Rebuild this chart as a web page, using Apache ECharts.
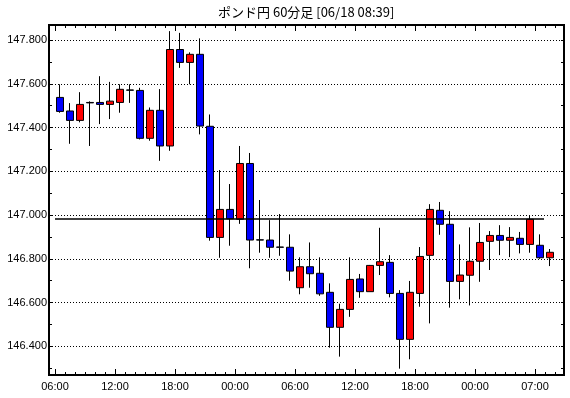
<!DOCTYPE html>
<html lang="ja">
<head>
    <meta charset="UTF-8">
    <title>ポンド円 60分足</title>
    <script src="https://cdn.jsdelivr.net/npm/echarts@6/dist/echarts.min.js"></script>
    <style>
        body, html {
            margin: 0;
            background: #fff;
        }

        #chart {
            width: 570px;
            height: 398px;
        }
    </style>
</head>
<body>
<div id="chart"></div>
<script>
    // 60分足の時刻 (06:00 の足が欠けている)
    const hours = [
        '06:00', '07:00', '08:00', '09:00', '10:00', '11:00', '12:00', '13:00', '14:00', '15:00',
        '16:00', '17:00', '18:00', '19:00', '20:00', '21:00', '22:00', '23:00', '00:00', '01:00',
        '02:00', '03:00', '04:00', '05:00', '06:00', '07:00', '08:00', '09:00', '10:00', '11:00',
        '12:00', '13:00', '14:00', '15:00', '16:00', '17:00', '18:00', '19:00', '20:00', '21:00',
        '22:00', '23:00', '00:00', '01:00', '02:00', '03:00', '04:00', '05:00', '07:00', '08:00'
    ];

    const opens = [
        147.538, 147.476, 147.433, 147.515, 147.515, 147.506, 147.515, 147.572, 147.570, 147.351,
        147.479, 147.316, 147.757, 147.698, 147.735, 147.406, 146.898, 147.026, 146.981, 147.236,
        146.887, 146.886, 146.854, 146.853, 146.668, 146.764, 146.734, 146.647, 146.487, 146.569,
        146.708, 146.650, 146.770, 146.784, 146.642, 146.432, 146.642, 146.816, 147.022, 146.958,
        146.697, 146.725, 146.789, 146.880, 146.907, 146.885, 146.894, 146.866, 146.862, 146.805
    ];
    const closes = [
        147.474, 147.433, 147.506, 147.513, 147.506, 147.521, 147.575, 147.571, 147.351, 147.479,
        147.316, 147.757, 147.698, 147.735, 147.407, 146.898, 147.026, 146.983, 147.236, 146.886,
        146.886, 146.853, 146.853, 146.744, 146.764, 146.732, 146.640, 146.487, 146.569, 146.706,
        146.650, 146.770, 146.787, 146.642, 146.432, 146.647, 146.811, 147.026, 146.958, 146.697,
        146.726, 146.789, 146.875, 146.907, 146.885, 146.898, 146.866, 146.981, 146.805, 146.830
    ];
    const lows = [
        147.468, 147.326, 147.424, 147.316, 147.416, 147.439, 147.468, 147.513, 147.346, 147.340,
        147.248, 147.294, 147.673, 147.598, 147.369, 146.883, 146.805, 146.860, 146.960, 146.757,
        146.828, 146.805, 146.814, 146.700, 146.638, 146.668, 146.631, 146.394, 146.353, 146.535,
        146.622, 146.650, 146.726, 146.624, 146.298, 146.341, 146.581, 146.505, 146.910, 146.577,
        146.615, 146.587, 146.695, 146.749, 146.817, 146.808, 146.825, 146.828, 146.800, 146.767
    ];
    const highs = [
        147.598, 147.512, 147.562, 147.520, 147.635, 147.609, 147.598, 147.598, 147.582, 147.492,
        147.576, 147.841, 147.833, 147.744, 147.808, 147.460, 147.206, 147.142, 147.316, 147.284,
        147.069, 146.977, 147.005, 146.912, 146.807, 146.875, 146.807, 146.688, 146.595, 146.807,
        146.731, 146.772, 146.942, 146.817, 146.657, 146.699, 146.854, 147.050, 147.060, 147.018,
        146.866, 146.944, 146.964, 146.927, 146.954, 146.945, 146.923, 146.999, 146.912, 146.845
    ];

    // 横の実線 (基準値)
    const refLevel = 146.984;

    // 価格軸の目盛
    const priceLabels = [146.4, 146.6, 146.8, 147.0, 147.2, 147.4, 147.6, 147.8];
    const priceTicks = [146.3, 146.4, 146.5, 146.6, 146.7, 146.8, 146.9, 147.0,
        147.1, 147.2, 147.3, 147.4, 147.5, 147.6, 147.7, 147.8];
    // 時刻ラベルを出す位置 (足の番号)
    const timeTicks = [0, 6, 12, 18, 24, 30, 36, 42, 48];

    const candles = opens.map((o, i) => [o, closes[i], lows[i], highs[i]]);

    const yMin = 146.269;
    const yMax = 147.869;
    const labelFont = {fontFamily: 'Liberation Sans', fontSize: 11, color: '#000'};

    const chart = echarts.init(document.getElementById('chart'));

    const option = {
        animation: false,
        backgroundColor: '#fff',
        title: {
            text: 'ポンド円 60分足 [06/18 08:39]',
            left: 218,
            top: 6,
            padding: 0,
            textStyle: {fontFamily: 'Noto Sans CJK JP', fontSize: 13, fontWeight: 'normal', color: '#000'}
        },
        grid: [
            // 足を描く範囲
            {left: 55, right: 15, top: 25, bottom: 23},
            // 外枠
            {left: 49, right: 6, top: 25, bottom: 23, show: true, borderColor: '#000', borderWidth: 2}
        ],
        xAxis: [
            {
                type: 'category', gridIndex: 0, data: hours, position: 'bottom', boundaryGap: true,
                axisLine: {show: false}, axisLabel: {show: false},
                axisTick: {show: true, inside: true, interval: 0, length: 3, lineStyle: {color: '#000'}}
            },
            {
                type: 'value', gridIndex: 0, min: 0, max: hours.length, position: 'bottom',
                axisLine: {show: false, onZero: false}, splitLine: {show: false},
                axisTick: {show: true, inside: true, length: 6, customValues: timeTicks, lineStyle: {color: '#000'}},
                axisLabel: Object.assign({
                    customValues: timeTicks, margin: 6,
                    formatter: v => hours[Math.round(v)]
                }, labelFont)
            },
            {
                type: 'category', gridIndex: 0, data: hours, position: 'top', boundaryGap: true,
                axisLine: {show: false}, axisLabel: {show: false},
                axisTick: {show: true, inside: true, interval: 0, length: 3, lineStyle: {color: '#000'}}
            },
            {
                type: 'value', gridIndex: 0, min: 0, max: hours.length, position: 'top',
                axisLine: {show: false, onZero: false}, splitLine: {show: false}, axisLabel: {show: false},
                axisTick: {show: true, inside: true, length: 6, customValues: timeTicks, lineStyle: {color: '#000'}}
            },
            {type: 'value', gridIndex: 1, show: false}
        ],
        yAxis: [
            {type: 'value', gridIndex: 0, min: yMin, max: yMax, show: false},
            {
                type: 'value', gridIndex: 1, min: yMin, max: yMax, position: 'left',
                axisLine: {show: false},
                axisTick: {show: false, customValues: priceLabels},
                axisLabel: Object.assign({
                    customValues: priceLabels, margin: 2,
                    formatter: v => v.toFixed(3)
                }, labelFont),
                splitLine: {show: true, lineStyle: {color: '#000', width: 1, type: [1, 2]}}
            },
            {
                type: 'value', gridIndex: 1, min: yMin, max: yMax, position: 'left',
                axisLine: {show: false}, axisLabel: {show: false}, splitLine: {show: false},
                axisTick: {show: true, inside: true, length: 3, customValues: priceTicks, lineStyle: {color: '#000'}}
            },
            {
                type: 'value', gridIndex: 1, min: yMin, max: yMax, position: 'right',
                axisLine: {show: false}, axisLabel: {show: false}, splitLine: {show: false},
                axisTick: {show: true, inside: true, length: 3, customValues: priceTicks, lineStyle: {color: '#000'}}
            }
        ],
        series: [
            {
                name: 'ポンド円',
                type: 'candlestick',
                xAxisIndex: 0,
                yAxisIndex: 0,
                data: candles,
                barWidth: 7,
                itemStyle: {
                    color: '#ff0000',
                    color0: '#0000ff',
                    borderColor: '#000',
                    borderColor0: '#000',
                    borderColorDoji: '#000',
                    borderWidth: 1
                },
                markLine: {
                    silent: true,
                    symbol: 'none',
                    label: {show: false},
                    lineStyle: {color: '#000', width: 1.5, type: 'solid'},
                    data: [[{x: 55, yAxis: refLevel}, {x: 544, yAxis: refLevel}]]
                }
            }
        ]
    };

    chart.setOption(option);
</script>
</body>
</html>
